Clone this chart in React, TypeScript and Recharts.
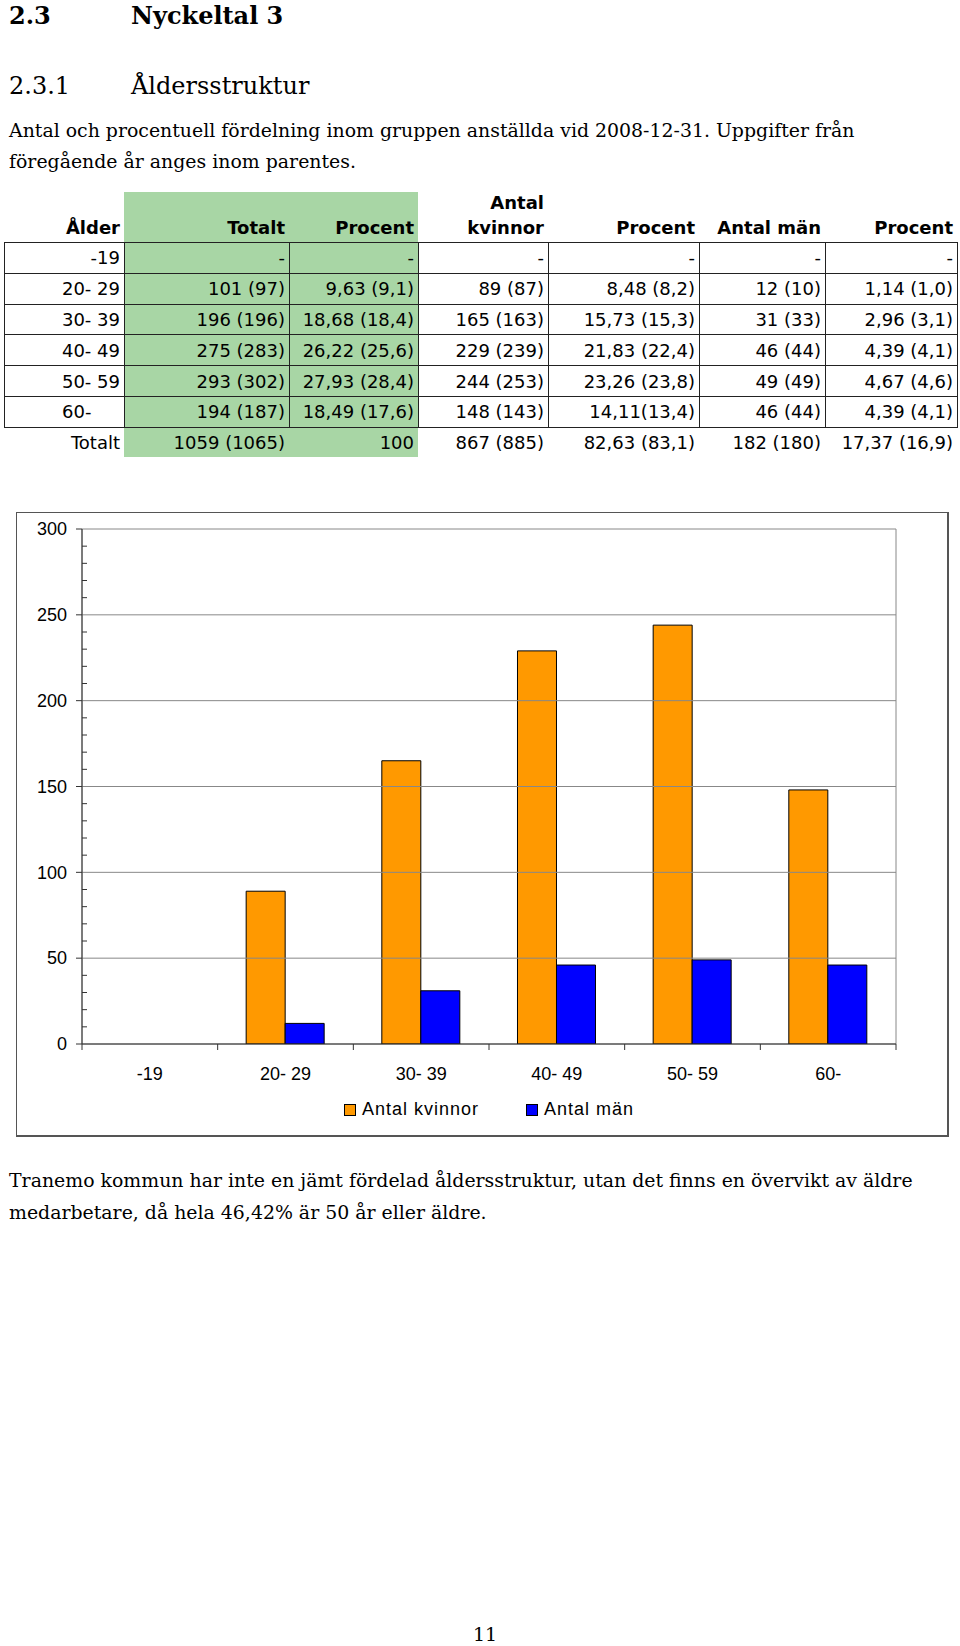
import React from 'react'
import { BarChart, Bar, XAxis, YAxis, Legend, ReferenceLine, ReferenceArea } from 'recharts'

// Chart data
const ageGroups = ['-19', '20- 29', '30- 39', '40- 49', '50- 59', '60-']
const women = [null, 89, 165, 229, 244, 148]
const men = [null, 12, 31, 46, 49, 46]
const yTicks = [0, 10, 20, 30, 40, 50, 60, 70, 80, 90, 100, 110, 120, 130, 140, 150, 160, 170, 180, 190, 200, 210, 220, 230, 240, 250, 260, 270, 280, 290, 300]
const gridValues = [50, 100, 150, 200, 250]

// Table data
const tableHeaders = ['Ålder', 'Totalt', 'Procent', 'Antal kvinnor', 'Procent', 'Antal män', 'Procent']
const rowLabels = ['-19', '20- 29', '30- 39', '40- 49', '50- 59', '60-', 'Totalt']
const totalCol = ['-', '101 (97)', '196 (196)', '275 (283)', '293 (302)', '194 (187)', '1059 (1065)']
const totalPct = ['-', '9,63 (9,1)', '18,68 (18,4)', '26,22 (25,6)', '27,93 (28,4)', '18,49 (17,6)', '100']
const womenCol = ['-', '89 (87)', '165 (163)', '229 (239)', '244 (253)', '148 (143)', '867 (885)']
const womenPct = ['-', '8,48 (8,2)', '15,73 (15,3)', '21,83 (22,4)', '23,26 (23,8)', '14,11(13,4)', '82,63 (83,1)']
const menCol = ['-', '12 (10)', '31 (33)', '46 (44)', '49 (49)', '46 (44)', '182 (180)']
const menPct = ['-', '1,14 (1,0)', '2,96 (3,1)', '4,39 (4,1)', '4,67 (4,6)', '4,39 (4,1)', '17,37 (16,9)']

const chartData = ageGroups.map((g, i) => ({ group: g, kvinnor: women[i], man: men[i] }))

const colEdges = [4, 124, 289, 418, 548, 699, 825, 957]
const rowTop = 242
const rowH = 30.8
const serif = '"DejaVu Serif", serif'
const sans = '"DejaVu Sans", sans-serif'
const chartFont = '"Liberation Sans", Arial, sans-serif'
const axisColor = '#333'

const YTick = (props: any) => {
  const { x, y, payload } = props
  const v = payload.value
  const major = v % 50 === 0
  return (
    <g>
      {major
        ? <line x1={x - 6} x2={x} y1={y} y2={y} stroke={axisColor} />
        : <line x1={x} x2={x + 5} y1={y} y2={y} stroke={axisColor} />}
      {major && (
        <text x={x - 15} y={y} dy="0.35em" textAnchor="end" fontSize={18} fontFamily={chartFont} fill="#000">{v}</text>
      )}
    </g>
  )
}

const XTick = (props: any) => {
  const { x, y, payload, index, visibleTicksCount, width } = props
  const half = payload.offset ?? width / visibleTicksCount / 2
  const last = index === visibleTicksCount - 1
  return (
    <g>
      <line x1={x - half} x2={x - half} y1={y} y2={y + 6} stroke={axisColor} />
      {last && <line x1={x + half} x2={x + half} y1={y} y2={y + 6} stroke={axisColor} />}
      <text x={x} y={y + 30} dy="0.35em" textAnchor="middle" fontSize={18} fontFamily={chartFont} fill="#000">{payload.value}</text>
    </g>
  )
}

const LegendContent = (props: any) => (
  <div style={{ display: 'flex', justifyContent: 'center', gap: 47, fontFamily: chartFont, fontSize: 18, letterSpacing: 1 }}>
    {props.payload.map((p: any) => (
      <div key={p.value} style={{ display: 'flex', alignItems: 'center', gap: 6 }}>
        <span style={{ width: 10, height: 10, background: p.color, border: '1px solid #000' }} />
        <span>{p.value}</span>
      </div>
    ))}
  </div>
)

function Cell({ left, right, top, height, text, padLeft }: any) {
  return (
    <div style={{
      position: 'absolute', left, top, width: right - left, height, boxSizing: 'border-box',
      display: 'flex', alignItems: 'center', justifyContent: padLeft ? 'flex-start' : 'flex-end',
      padding: padLeft ? `0 0 0 ${padLeft}px` : '0 4px', fontFamily: sans, fontSize: 18, whiteSpace: 'nowrap',
      lineHeight: 1,
    }}>{text}</div>
  )
}

export default function App() {
  const cols = [rowLabels, totalCol, totalPct, womenCol, womenPct, menCol, menPct]
  const hLines = [0, 1, 2, 3, 4, 5, 6]
  return (
    <div style={{ position: 'relative', width: 960, height: 1646, background: '#fff', overflow: 'hidden' }}>
      <style>{'body{margin:0}'}</style>

      <div style={{ position: 'absolute', left: 9, top: 4, fontFamily: serif, fontSize: 24, fontWeight: 'bold', lineHeight: 1 }}>2.3</div>
      <div style={{ position: 'absolute', left: 131, top: 4, fontFamily: serif, fontSize: 24, fontWeight: 'bold', lineHeight: 1 }}>Nyckeltal 3</div>
      <div style={{ position: 'absolute', left: 9, top: 74, fontFamily: serif, fontSize: 24, lineHeight: 1 }}>2.3.1</div>
      <div style={{ position: 'absolute', left: 131, top: 74, fontFamily: serif, fontSize: 24, lineHeight: 1 }}>Åldersstruktur</div>
      <div style={{ position: 'absolute', left: 9, top: 115, width: 940, fontFamily: serif, fontSize: 18.9, lineHeight: '31px', whiteSpace: 'nowrap' }}>
        Antal och procentuell fördelning inom gruppen anställda vid 2008-12-31. Uppgifter från<br />föregående år anges inom parentes.
      </div>

      {/* table */}
      <div style={{ position: 'absolute', left: colEdges[1], top: 192, width: colEdges[3] - colEdges[1], height: 265, background: '#A8D6A5' }} />
      {tableHeaders.map((h, c) => (
        <div key={'h' + c} style={{
          position: 'absolute', left: colEdges[c], width: colEdges[c + 1] - colEdges[c], top: 185, height: 55,
          display: 'flex', alignItems: 'flex-end', justifyContent: 'flex-end', textAlign: 'right', boxSizing: 'border-box',
          padding: '0 4px', fontFamily: sans, fontSize: 18, fontWeight: 'bold', lineHeight: '25px',
        }}>{h === 'Antal kvinnor' ? <span>Antal<br />kvinnor</span> : h}</div>
      ))}
      {hLines.map(r => (
        <div key={'hl' + r} style={{ position: 'absolute', left: colEdges[0], top: Math.round(rowTop + r * rowH), width: colEdges[7] - colEdges[0], height: 1, background: '#222' }} />
      ))}
      {colEdges.map(x => (
        <div key={'vl' + x} style={{ position: 'absolute', left: x, top: rowTop, width: 1, height: Math.round(6 * rowH) + 1, background: '#222' }} />
      ))}
      {cols.map((col, c) => col.map((t, r) => (
        <Cell key={c + '-' + r} left={colEdges[c]} right={colEdges[c + 1]} top={rowTop + r * rowH + 1} height={rowH}
          text={t} padLeft={c === 0 && r === 5 ? 58 : 0} />
      )))}

      {/* chart */}
      <div style={{ position: 'absolute', left: 16, top: 512, width: 933, height: 625, boxSizing: 'border-box', borderTop: '1px solid #555', borderLeft: '1px solid #555', borderRight: '2px solid #555', borderBottom: '2px solid #555' }}>
        <BarChart width={930} height={622} data={chartData} margin={{ top: 16, right: 51, left: 0, bottom: 0 }}
          barCategoryGap="21%" barGap={0}>
          <ReferenceArea y1={0} y2={300} fill="none" stroke="#888" strokeWidth={1} ifOverflow="visible" />
          {gridValues.map(v => <ReferenceLine key={v} y={v} stroke="#888" strokeWidth={1} />)}
          <XAxis dataKey="group" height={55} tickSize={0} tickMargin={0} tickLine={false} interval={0}
            axisLine={{ stroke: axisColor }} tick={<XTick />} />
          <YAxis width={65} domain={[0, 300]} ticks={yTicks} interval={0} tickSize={0} tickMargin={0}
            tickLine={false} axisLine={{ stroke: axisColor }} tick={<YTick />} allowDataOverflow />
          <Legend verticalAlign="bottom" height={36} content={<LegendContent />} wrapperStyle={{ left: 65, width: 814 }} />
          <Bar dataKey="kvinnor" name="Antal kvinnor" fill="#FF9900" stroke="#000" strokeWidth={1} isAnimationActive={false} />
          <Bar dataKey="man" name="Antal män" fill="#0000FF" stroke="#000" strokeWidth={1} isAnimationActive={false} />
        </BarChart>
      </div>

      <div style={{ position: 'absolute', left: 9, top: 1164, width: 950, fontFamily: serif, fontSize: 18.9, lineHeight: '32px', whiteSpace: 'nowrap' }}>
        Tranemo kommun har inte en jämt fördelad åldersstruktur, utan det finns en övervikt av äldre<br />medarbetare, då hela 46,42% är 50 år eller äldre.
      </div>
      <div style={{ position: 'absolute', left: 473, top: 1625, fontFamily: serif, fontSize: 19, lineHeight: 1 }}>11</div>
    </div>
  )
}
